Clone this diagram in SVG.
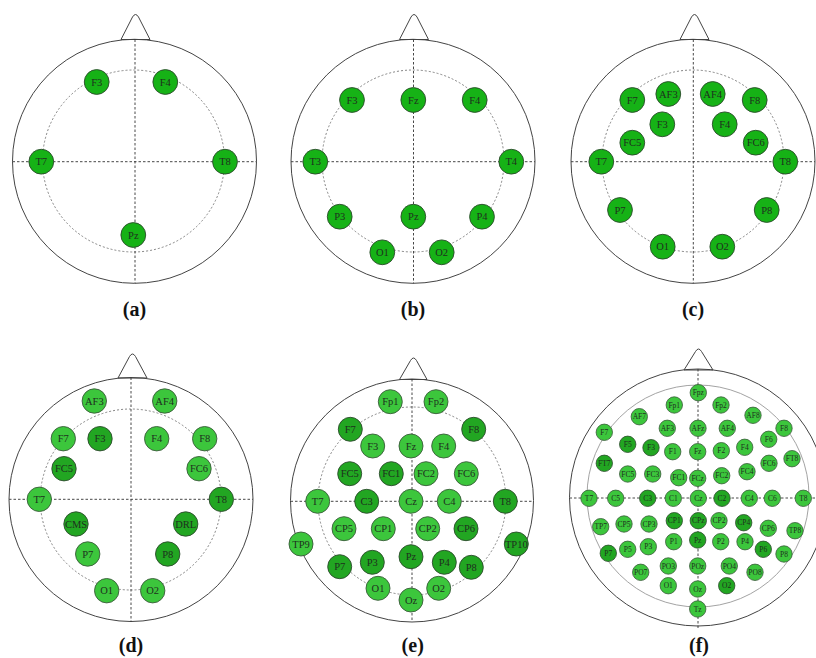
<svg xmlns="http://www.w3.org/2000/svg" width="816" height="658" viewBox="0 0 816 658">
<style>
.head{fill:none;stroke:#444;stroke-width:1}
.nose{fill:#fff;stroke:#444;stroke-width:1;stroke-linejoin:round}
.axis{stroke:#333;stroke-width:0.9;stroke-dasharray:2.5 2;fill:none}
.ring{fill:none;stroke:#777;stroke-width:0.9;stroke-dasharray:2 2}
.ringf{fill:none;stroke:#999;stroke-width:0.9}
.el circle{fill:#16b216;stroke:#2c4a2c;stroke-width:0.9}
.lt circle{fill:#3cc63c;stroke:#3a5a3a;stroke-width:0.9}
.dk circle{fill:#22a622;stroke:#2c4a2c;stroke-width:0.9}
.el text,.lt text,.dk text{font-family:"Liberation Serif",serif;font-size:10.5px;fill:#1e301e;text-anchor:middle}
.sm circle{stroke-width:0.8}
.sm text{font-size:7.5px}
.cap{font-family:"Liberation Serif",serif;font-weight:bold;font-size:20px;text-anchor:middle;fill:#111}
</style>
<rect width="816" height="658" fill="#fff"/>

<!-- Panel a -->
<g id="panel-a">
<g id="a-outline">
<path class="nose" d="M121,39.5 L132.5,17 Q135.5,12 138.5,17 L150,39.5 Z"/>
<circle class="head" cx="134.5" cy="161.3" r="122"/>
<circle class="ring" cx="133.5" cy="161" r="91"/>
<line class="axis" x1="135" y1="39.5" x2="135" y2="283.3"/>
<line class="axis" x1="12.5" y1="161.7" x2="256.5" y2="161.7"/>
</g>
<g id="a-F3" class="el"><circle cx="96.7" cy="82" r="12.4"/><text x="96.7" y="85.7">F3</text></g>
<g id="a-F4" class="el"><circle cx="165.3" cy="82" r="12.4"/><text x="165.3" y="85.7">F4</text></g>
<g id="a-T7" class="el"><circle cx="41.3" cy="161.7" r="12.4"/><text x="41.3" y="165.4">T7</text></g>
<g id="a-T8" class="el"><circle cx="225" cy="161.7" r="12.4"/><text x="225" y="165.4">T8</text></g>
<g id="a-Pz" class="el"><circle cx="133.3" cy="235" r="12.4"/><text x="133.3" y="238.7">Pz</text></g>
<text class="cap" x="134.5" y="316">(a)</text>
</g>

<!-- Panel b -->
<g id="panel-b">
<g id="b-outline">
<path class="nose" d="M399.5,39.5 L411,17 Q414,12 417,17 L428.5,39.5 Z"/>
<circle class="head" cx="413" cy="161.3" r="122"/>
<circle class="ring" cx="413" cy="161" r="91"/>
<line class="axis" x1="413.5" y1="39.5" x2="413.5" y2="283.3"/>
<line class="axis" x1="291" y1="161.7" x2="535" y2="161.7"/>
</g>
<g id="b-F3" class="el"><circle cx="352" cy="100" r="12.4"/><text x="352" y="103.7">F3</text></g>
<g id="b-Fz" class="el"><circle cx="413.3" cy="100" r="12.4"/><text x="413.3" y="103.7">Fz</text></g>
<g id="b-F4" class="el"><circle cx="474.7" cy="100" r="12.4"/><text x="474.7" y="103.7">F4</text></g>
<g id="b-T3" class="el"><circle cx="315.3" cy="161.7" r="12.4"/><text x="315.3" y="165.4">T3</text></g>
<g id="b-T4" class="el"><circle cx="511.3" cy="161.7" r="12.4"/><text x="511.3" y="165.4">T4</text></g>
<g id="b-P3" class="el"><circle cx="339.7" cy="216.7" r="12.4"/><text x="339.7" y="220.4">P3</text></g>
<g id="b-Pz" class="el"><circle cx="413.3" cy="216.7" r="12.4"/><text x="413.3" y="220.4">Pz</text></g>
<g id="b-P4" class="el"><circle cx="482" cy="216.7" r="12.4"/><text x="482" y="220.4">P4</text></g>
<g id="b-O1" class="el"><circle cx="382.3" cy="252.3" r="12.4"/><text x="382.3" y="256">O1</text></g>
<g id="b-O2" class="el"><circle cx="441.7" cy="252.3" r="12.4"/><text x="441.7" y="256">O2</text></g>
<text class="cap" x="413" y="316">(b)</text>
</g>

<!-- Panel c -->
<g id="panel-c">
<g id="c-outline">
<path class="nose" d="M680,39.5 L691.5,17 Q694.5,12 697.5,17 L709,39.5 Z"/>
<circle class="head" cx="693" cy="161.3" r="122"/>
<circle class="ring" cx="693" cy="161" r="91"/>
<line class="axis" x1="693.3" y1="39.5" x2="693.3" y2="283.3"/>
<line class="axis" x1="571" y1="161.7" x2="815" y2="161.7"/>
</g>
<g id="c-F7" class="el"><circle cx="632.3" cy="100" r="12.4"/><text x="632.3" y="103.7">F7</text></g>
<g id="c-AF3" class="el"><circle cx="668.3" cy="94" r="12.4"/><text x="668.3" y="97.7">AF3</text></g>
<g id="c-AF4" class="el"><circle cx="712.7" cy="94" r="12.4"/><text x="712.7" y="97.7">AF4</text></g>
<g id="c-F8" class="el"><circle cx="754.7" cy="100" r="12.4"/><text x="754.7" y="103.7">F8</text></g>
<g id="c-F3" class="el"><circle cx="662.3" cy="124.3" r="12.4"/><text x="662.3" y="128">F3</text></g>
<g id="c-F4" class="el"><circle cx="724.7" cy="124.3" r="12.4"/><text x="724.7" y="128">F4</text></g>
<g id="c-FC5" class="el"><circle cx="632.3" cy="142.7" r="12.4"/><text x="632.3" y="146.4">FC5</text></g>
<g id="c-FC6" class="el"><circle cx="755.7" cy="142.7" r="12.4"/><text x="755.7" y="146.4">FC6</text></g>
<g id="c-T7" class="el"><circle cx="601.3" cy="161.7" r="12.4"/><text x="601.3" y="165.4">T7</text></g>
<g id="c-T8" class="el"><circle cx="785.3" cy="161.7" r="12.4"/><text x="785.3" y="165.4">T8</text></g>
<g id="c-P7" class="el"><circle cx="620" cy="210" r="12.4"/><text x="620" y="213.7">P7</text></g>
<g id="c-P8" class="el"><circle cx="766.7" cy="210" r="12.4"/><text x="766.7" y="213.7">P8</text></g>
<g id="c-O1" class="el"><circle cx="662.7" cy="246.7" r="12.4"/><text x="662.7" y="250.4">O1</text></g>
<g id="c-O2" class="el"><circle cx="722.3" cy="246.7" r="12.4"/><text x="722.3" y="250.4">O2</text></g>
<text class="cap" x="693" y="316">(c)</text>
</g>

<!-- Panel d -->
<g id="panel-d">
<g id="d-outline">
<path class="nose" d="M118,378 L129.5,356.5 Q132.5,351.5 135.5,356.5 L147,378 Z"/>
<circle class="head" cx="131" cy="499.5" r="122"/>
<circle class="ring" cx="130.7" cy="499.5" r="90.5"/>
<line class="axis" x1="131" y1="377.5" x2="131" y2="621.5"/>
<line class="axis" x1="9" y1="499.3" x2="253" y2="499.3"/>
</g>
<g id="d-AF3" class="lt"><circle cx="94.3" cy="401" r="12.2"/><text x="94.3" y="404.7">AF3</text></g>
<g id="d-AF4" class="lt"><circle cx="164.7" cy="401" r="12.2"/><text x="164.7" y="404.7">AF4</text></g>
<g id="d-F7" class="lt"><circle cx="63.3" cy="438.7" r="12.2"/><text x="63.3" y="442.4">F7</text></g>
<g id="d-F3" class="dk"><circle cx="100" cy="438.7" r="12.2"/><text x="100" y="442.4">F3</text></g>
<g id="d-F4" class="lt"><circle cx="156.7" cy="438.7" r="12.2"/><text x="156.7" y="442.4">F4</text></g>
<g id="d-F8" class="lt"><circle cx="204.7" cy="438.7" r="12.2"/><text x="204.7" y="442.4">F8</text></g>
<g id="d-FC5" class="dk"><circle cx="64" cy="468.7" r="12.2"/><text x="64" y="472.4">FC5</text></g>
<g id="d-FC6" class="lt"><circle cx="199" cy="468.7" r="12.2"/><text x="199" y="472.4">FC6</text></g>
<g id="d-T7" class="lt"><circle cx="39.3" cy="499.3" r="12.2"/><text x="39.3" y="503">T7</text></g>
<g id="d-T8" class="dk"><circle cx="221.3" cy="499.3" r="12.2"/><text x="221.3" y="503">T8</text></g>
<g id="d-CMS" class="dk"><circle cx="76" cy="524" r="12.2"/><text x="76" y="527.7">CMS</text></g>
<g id="d-DRL" class="dk"><circle cx="185.7" cy="524" r="12.2"/><text x="185.7" y="527.7">DRL</text></g>
<g id="d-P7" class="lt"><circle cx="87.7" cy="554" r="12.2"/><text x="87.7" y="557.7">P7</text></g>
<g id="d-P8" class="dk"><circle cx="167.7" cy="554" r="12.2"/><text x="167.7" y="557.7">P8</text></g>
<g id="d-O1" class="lt"><circle cx="106.7" cy="590.7" r="12.2"/><text x="106.7" y="594.4">O1</text></g>
<g id="d-O2" class="lt"><circle cx="152.7" cy="590.7" r="12.2"/><text x="152.7" y="594.4">O2</text></g>
<text class="cap" x="131" y="652">(d)</text>
</g>

<!-- Panel e -->
<g id="panel-e">
<g id="e-outline">
<path class="nose" d="M399.5,379.5 L410.5,360.5 Q413.5,355.5 416.5,360.5 L427,379.5 Z"/>
<circle class="head" cx="412" cy="500.5" r="121.5"/>
<circle class="ring" cx="412" cy="501" r="94"/>
<line class="axis" x1="412" y1="379" x2="412" y2="622"/>
<line class="axis" x1="290.5" y1="501.3" x2="533.5" y2="501.3"/>
</g>
<g id="e-Fp1" class="lt"><circle cx="390.3" cy="401.7" r="12"/><text x="390.3" y="405.4">Fp1</text></g>
<g id="e-Fp2" class="lt"><circle cx="436" cy="401.7" r="12"/><text x="436" y="405.4">Fp2</text></g>
<g id="e-F7" class="dk"><circle cx="350.3" cy="429.3" r="12"/><text x="350.3" y="433">F7</text></g>
<g id="e-F8" class="dk"><circle cx="473.7" cy="429.3" r="12"/><text x="473.7" y="433">F8</text></g>
<g id="e-F3" class="lt"><circle cx="372.7" cy="446" r="12"/><text x="372.7" y="449.7">F3</text></g>
<g id="e-Fz" class="lt"><circle cx="411" cy="446" r="12"/><text x="411" y="449.7">Fz</text></g>
<g id="e-F4" class="lt"><circle cx="443.7" cy="446" r="12"/><text x="443.7" y="449.7">F4</text></g>
<g id="e-FC5" class="dk"><circle cx="349.7" cy="473.7" r="12"/><text x="349.7" y="477.4">FC5</text></g>
<g id="e-FC1" class="dk"><circle cx="391.3" cy="473.7" r="12"/><text x="391.3" y="477.4">FC1</text></g>
<g id="e-FC2" class="lt"><circle cx="426" cy="473.7" r="12"/><text x="426" y="477.4">FC2</text></g>
<g id="e-FC6" class="lt"><circle cx="466.3" cy="473.7" r="12"/><text x="466.3" y="477.4">FC6</text></g>
<g id="e-T7" class="lt"><circle cx="317.7" cy="501.3" r="12"/><text x="317.7" y="505">T7</text></g>
<g id="e-C3" class="dk"><circle cx="366.7" cy="501.3" r="12"/><text x="366.7" y="505">C3</text></g>
<g id="e-Cz" class="lt"><circle cx="411" cy="501.3" r="12"/><text x="411" y="505">Cz</text></g>
<g id="e-C4" class="lt"><circle cx="449.3" cy="501.3" r="12"/><text x="449.3" y="505">C4</text></g>
<g id="e-T8" class="dk"><circle cx="505.3" cy="501.3" r="12"/><text x="505.3" y="505">T8</text></g>
<g id="e-CP5" class="lt"><circle cx="344" cy="528.7" r="12"/><text x="344" y="532.4">CP5</text></g>
<g id="e-CP1" class="lt"><circle cx="383.3" cy="528.7" r="12"/><text x="383.3" y="532.4">CP1</text></g>
<g id="e-CP2" class="lt"><circle cx="427.7" cy="528.7" r="12"/><text x="427.7" y="532.4">CP2</text></g>
<g id="e-CP6" class="dk"><circle cx="466" cy="528.7" r="12"/><text x="466" y="532.4">CP6</text></g>
<g id="e-TP9" class="lt"><circle cx="301" cy="544" r="12"/><text x="301" y="547.7">TP9</text></g>
<g id="e-TP10" class="dk"><circle cx="516.3" cy="544" r="12"/><text x="516.3" y="547.7">TP10</text></g>
<g id="e-P7" class="dk"><circle cx="339.7" cy="566.7" r="12"/><text x="339.7" y="570.4">P7</text></g>
<g id="e-P3" class="dk"><circle cx="372.3" cy="562.3" r="12"/><text x="372.3" y="566">P3</text></g>
<g id="e-Pz" class="dk"><circle cx="411" cy="556.7" r="12"/><text x="411" y="560.4">Pz</text></g>
<g id="e-P4" class="dk"><circle cx="444.3" cy="562.3" r="12"/><text x="444.3" y="566">P4</text></g>
<g id="e-P8" class="dk"><circle cx="471.3" cy="567.3" r="12"/><text x="471.3" y="571">P8</text></g>
<g id="e-O1" class="lt"><circle cx="378" cy="588.3" r="12"/><text x="378" y="592">O1</text></g>
<g id="e-O2" class="lt"><circle cx="438.7" cy="588.3" r="12"/><text x="438.7" y="592">O2</text></g>
<g id="e-Oz" class="lt"><circle cx="411" cy="600" r="12"/><text x="411" y="603.7">Oz</text></g>
<text class="cap" x="412.7" y="652">(e)</text>
</g>

<!-- Panel f -->
<g id="panel-f">
<g id="f-outline">
<path class="nose" d="M684,370 L695.5,351.5 Q698.5,346.5 701.5,351.5 L713,370 Z"/>
<circle class="head" cx="698" cy="497.5" r="128.5"/>
<circle class="ringf" cx="698" cy="496" r="111"/>
<line class="axis" x1="698" y1="369" x2="698" y2="628"/>
<line class="axis" x1="569.5" y1="498" x2="816" y2="498"/>
</g>
<g id="f-Fpz" class="lt sm"><circle cx="698.3" cy="392.7" r="8.2"/><text x="698.3" y="395.3">Fpz</text></g>
<g id="f-Fp1" class="lt sm"><circle cx="674.3" cy="405" r="8.2"/><text x="674.3" y="407.6">Fp1</text></g>
<g id="f-Fp2" class="lt sm"><circle cx="721" cy="405" r="8.2"/><text x="721" y="407.6">Fp2</text></g>
<g id="f-AF7" class="lt sm"><circle cx="639.3" cy="416.7" r="8.2"/><text x="639.3" y="419.3">AF7</text></g>
<g id="f-AF8" class="lt sm"><circle cx="753" cy="415.3" r="8.2"/><text x="753" y="417.9">AF8</text></g>
<g id="f-AF3" class="lt sm"><circle cx="667.3" cy="428.3" r="8.2"/><text x="667.3" y="430.9">AF3</text></g>
<g id="f-AFz" class="lt sm"><circle cx="698" cy="428.3" r="8.2"/><text x="698" y="430.9">AFz</text></g>
<g id="f-AF4" class="lt sm"><circle cx="727.3" cy="428.3" r="8.2"/><text x="727.3" y="430.9">AF4</text></g>
<g id="f-F7" class="lt sm"><circle cx="604.3" cy="432.3" r="8.2"/><text x="604.3" y="434.9">F7</text></g>
<g id="f-F8" class="lt sm"><circle cx="784" cy="428.3" r="8.2"/><text x="784" y="430.9">F8</text></g>
<g id="f-F5" class="dk sm"><circle cx="627.7" cy="444.3" r="8.2"/><text x="627.7" y="446.9">F5</text></g>
<g id="f-F3" class="dk sm"><circle cx="651" cy="447.7" r="8.2"/><text x="651" y="450.3">F3</text></g>
<g id="f-F1" class="lt sm"><circle cx="672.7" cy="451.7" r="8.2"/><text x="672.7" y="454.3">F1</text></g>
<g id="f-Fz" class="lt sm"><circle cx="697.7" cy="451.7" r="8.2"/><text x="697.7" y="454.3">Fz</text></g>
<g id="f-F2" class="lt sm"><circle cx="721.3" cy="450.7" r="8.2"/><text x="721.3" y="453.3">F2</text></g>
<g id="f-F4" class="lt sm"><circle cx="744.7" cy="447.3" r="8.2"/><text x="744.7" y="449.9">F4</text></g>
<g id="f-F6" class="lt sm"><circle cx="768.7" cy="439.3" r="8.2"/><text x="768.7" y="441.9">F6</text></g>
<g id="f-FT7" class="dk sm"><circle cx="604.3" cy="463.3" r="8.2"/><text x="604.3" y="465.9">FT7</text></g>
<g id="f-FT8" class="lt sm"><circle cx="792" cy="458.7" r="8.2"/><text x="792" y="461.3">FT8</text></g>
<g id="f-FC5" class="lt sm"><circle cx="627.7" cy="474" r="8.2"/><text x="627.7" y="476.6">FC5</text></g>
<g id="f-FC3" class="lt sm"><circle cx="652.7" cy="474" r="8.2"/><text x="652.7" y="476.6">FC3</text></g>
<g id="f-FC1" class="lt sm"><circle cx="678.7" cy="477.7" r="8.2"/><text x="678.7" y="480.3">FC1</text></g>
<g id="f-FCz" class="lt sm"><circle cx="697.7" cy="478.3" r="8.2"/><text x="697.7" y="480.9">FCz</text></g>
<g id="f-FC2" class="lt sm"><circle cx="721.7" cy="475.7" r="8.2"/><text x="721.7" y="478.3">FC2</text></g>
<g id="f-FC4" class="lt sm"><circle cx="747" cy="471.7" r="8.2"/><text x="747" y="474.3">FC4</text></g>
<g id="f-FC6" class="lt sm"><circle cx="769" cy="463.3" r="8.2"/><text x="769" y="465.9">FC6</text></g>
<g id="f-T7" class="lt sm"><circle cx="589" cy="498.3" r="8.2"/><text x="589" y="500.9">T7</text></g>
<g id="f-C5" class="lt sm"><circle cx="615.7" cy="498.3" r="8.2"/><text x="615.7" y="500.9">C5</text></g>
<g id="f-C3" class="dk sm"><circle cx="647.7" cy="498.3" r="8.2"/><text x="647.7" y="500.9">C3</text></g>
<g id="f-C1" class="lt sm"><circle cx="673.3" cy="498.3" r="8.2"/><text x="673.3" y="500.9">C1</text></g>
<g id="f-Cz" class="lt sm"><circle cx="698.3" cy="498.3" r="8.2"/><text x="698.3" y="500.9">Cz</text></g>
<g id="f-C2" class="dk sm"><circle cx="722" cy="498.3" r="8.2"/><text x="722" y="500.9">C2</text></g>
<g id="f-C4" class="lt sm"><circle cx="749.3" cy="498.3" r="8.2"/><text x="749.3" y="500.9">C4</text></g>
<g id="f-C6" class="lt sm"><circle cx="772.3" cy="498.3" r="8.2"/><text x="772.3" y="500.9">C6</text></g>
<g id="f-T8" class="lt sm"><circle cx="803.3" cy="498.3" r="8.2"/><text x="803.3" y="500.9">T8</text></g>
<g id="f-TP7" class="lt sm"><circle cx="600.7" cy="526.7" r="8.2"/><text x="600.7" y="529.3">TP7</text></g>
<g id="f-CP5" class="lt sm"><circle cx="624" cy="524" r="8.2"/><text x="624" y="526.6">CP5</text></g>
<g id="f-CP3" class="lt sm"><circle cx="649" cy="524" r="8.2"/><text x="649" y="526.6">CP3</text></g>
<g id="f-CP1" class="dk sm"><circle cx="674.3" cy="520.7" r="8.2"/><text x="674.3" y="523.3">CP1</text></g>
<g id="f-CPz" class="dk sm"><circle cx="698.3" cy="520.7" r="8.2"/><text x="698.3" y="523.3">CPz</text></g>
<g id="f-CP2" class="lt sm"><circle cx="719" cy="520.7" r="8.2"/><text x="719" y="523.3">CP2</text></g>
<g id="f-CP4" class="dk sm"><circle cx="743.7" cy="522.7" r="8.2"/><text x="743.7" y="525.3">CP4</text></g>
<g id="f-CP6" class="lt sm"><circle cx="768.3" cy="528.3" r="8.2"/><text x="768.3" y="530.9">CP6</text></g>
<g id="f-TP8" class="lt sm"><circle cx="795" cy="530.7" r="8.2"/><text x="795" y="533.3">TP8</text></g>
<g id="f-P7" class="dk sm"><circle cx="608.3" cy="553.3" r="8.2"/><text x="608.3" y="555.9">P7</text></g>
<g id="f-P5" class="lt sm"><circle cx="627.7" cy="549.3" r="8.2"/><text x="627.7" y="551.9">P5</text></g>
<g id="f-P3" class="lt sm"><circle cx="648.3" cy="546.7" r="8.2"/><text x="648.3" y="549.3">P3</text></g>
<g id="f-P1" class="lt sm"><circle cx="673.7" cy="541.7" r="8.2"/><text x="673.7" y="544.3">P1</text></g>
<g id="f-Pz" class="dk sm"><circle cx="697.7" cy="540" r="8.2"/><text x="697.7" y="542.6">Pz</text></g>
<g id="f-P2" class="lt sm"><circle cx="720.7" cy="541.7" r="8.2"/><text x="720.7" y="544.3">P2</text></g>
<g id="f-P4" class="lt sm"><circle cx="745" cy="541.7" r="8.2"/><text x="745" y="544.3">P4</text></g>
<g id="f-P6" class="dk sm"><circle cx="763.3" cy="549.3" r="8.2"/><text x="763.3" y="551.9">P6</text></g>
<g id="f-P8" class="lt sm"><circle cx="784" cy="554" r="8.2"/><text x="784" y="556.6">P8</text></g>
<g id="f-PO7" class="lt sm"><circle cx="640.7" cy="572.3" r="8.2"/><text x="640.7" y="574.9">PO7</text></g>
<g id="f-PO3" class="lt sm"><circle cx="668.3" cy="566" r="8.2"/><text x="668.3" y="568.6">PO3</text></g>
<g id="f-POz" class="lt sm"><circle cx="697.7" cy="566" r="8.2"/><text x="697.7" y="568.6">POz</text></g>
<g id="f-PO4" class="lt sm"><circle cx="729.3" cy="566" r="8.2"/><text x="729.3" y="568.6">PO4</text></g>
<g id="f-PO8" class="lt sm"><circle cx="755" cy="572.3" r="8.2"/><text x="755" y="574.9">PO8</text></g>
<g id="f-O1" class="lt sm"><circle cx="668.3" cy="585.7" r="8.2"/><text x="668.3" y="588.3">O1</text></g>
<g id="f-Oz" class="lt sm"><circle cx="697.7" cy="589" r="8.2"/><text x="697.7" y="591.6">Oz</text></g>
<g id="f-O2" class="dk sm"><circle cx="726.7" cy="585.7" r="8.2"/><text x="726.7" y="588.3">O2</text></g>
<g id="f-Tz" class="lt sm"><circle cx="697.7" cy="609" r="8.2"/><text x="697.7" y="611.6">Tz</text></g>
<text class="cap" x="699" y="652">(f)</text>
</g>
</svg>
